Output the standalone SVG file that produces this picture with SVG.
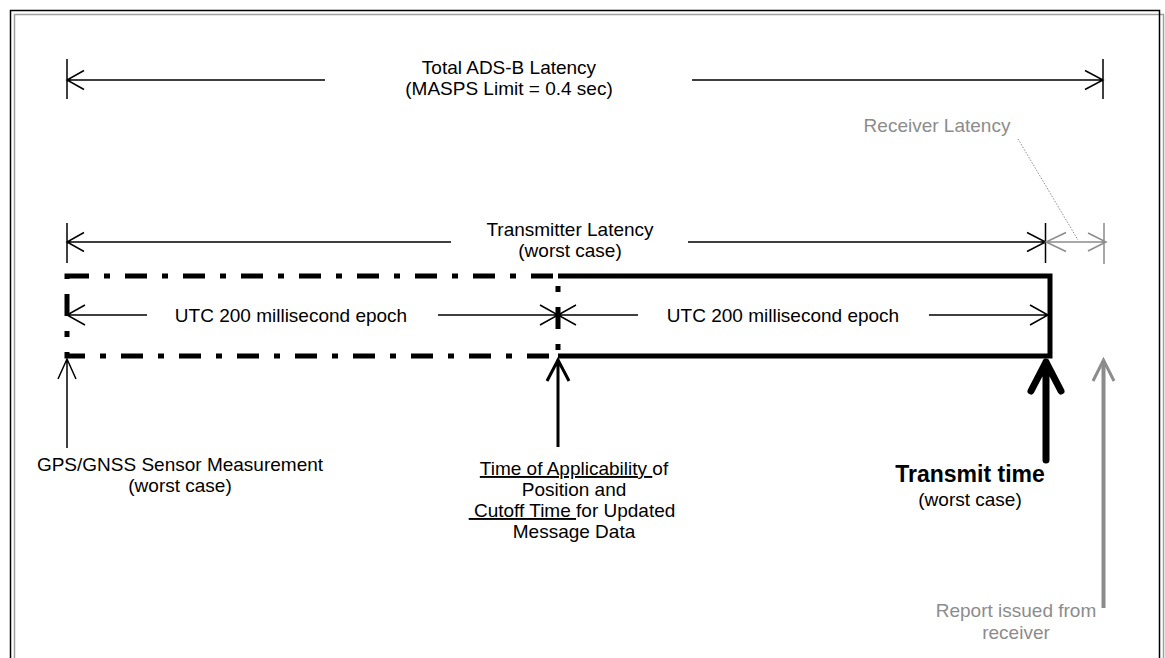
<svg xmlns="http://www.w3.org/2000/svg" width="1165" height="658" viewBox="0 0 1165 658">
<style>
text{font-family:"Liberation Sans",Arial,sans-serif;font-size:19px;fill:#000;text-anchor:middle}
.g{fill:#8c8c8c}
.b{font-weight:bold;font-size:23px}
.dim{stroke:#000;stroke-width:1.5;fill:none}
.gdim{stroke:#8c8c8c;stroke-width:1.5;fill:none}
.u{text-decoration:underline}
</style>
<rect width="1165" height="658" fill="#fff"/>
<g id="frame">
<rect x="14.5" y="14.5" width="1149" height="700" fill="none" stroke="#a0a0a0" stroke-width="1.5"/>
<rect x="10.5" y="10.5" width="1149" height="700" fill="none" stroke="#000" stroke-width="1.5"/>
</g>
<g id="epoch1">
<rect x="67" y="276" width="491" height="80" fill="none" stroke="#000" stroke-width="5" stroke-dasharray="22 15 6 15"/>
<text x="291" y="322">UTC 200 millisecond epoch</text>
</g>
<g id="epoch2">
<path d="M558,276 H1050 V356 H558" fill="none" stroke="#000" stroke-width="5"/>
<text x="783" y="322">UTC 200 millisecond epoch</text>
</g>
<g id="total-label">
<text x="509" y="74">Total ADS-B Latency</text>
<text x="509" y="95">(MASPS Limit = 0.4 sec)</text>
</g>
<g id="transmitter-label">
<text x="570" y="236">Transmitter Latency</text>
<text x="570" y="257">(worst case)</text>
</g>
<g id="receiver-label">
<text class="g" x="937" y="132">Receiver Latency</text>
</g>
<g id="gps">
<text x="180" y="471">GPS/GNSS Sensor Measurement</text>
<text x="180" y="492">(worst case)</text>
</g>
<g id="toa">
<text x="574" y="475" xml:space="preserve"><tspan class="u">Time of Applicability </tspan>of</text>
<text x="574" y="496">Position and</text>
<text x="572" y="517" xml:space="preserve"><tspan class="u"> Cutoff Time </tspan>for Updated</text>
<text x="574" y="538">Message Data</text>
</g>
<g id="transmit">
<text class="b" x="970" y="482">Transmit time</text>
<text x="970" y="506">(worst case)</text>
</g>
<g id="report">
<text class="g" x="1016" y="617">Report issued from</text>
<text class="g" x="1016" y="639">receiver</text>
</g>
<g id="connectors">
<!-- total latency -->
<path class="dim" d="M67,59 V99 M1103,59 V99 M67,80 H325 M692,80 H1103 M84,70.5 L67,80 L84,89.5 M1085,70.5 L1103,80 L1085,89.5"/>
<!-- transmitter latency -->
<path class="dim" d="M67,223 V263 M1045.5,223 V263 M67,242 H451 M688,242 H1045.5 M84,232.5 L67,242 L84,251.5 M1027,232.5 L1045.5,242 L1027,251.5"/>
<!-- receiver latency -->
<path class="gdim" d="M1104,223 V264 M1046,242 H1104 M1066,232.5 L1046,242 L1066,251.5 M1088,233 L1106,242 L1088,251"/>
<path d="M1018,139 L1078,240" stroke="#8c8c8c" stroke-width="1" stroke-dasharray="1.5 1.5" fill="none"/>
<!-- epochs -->
<path class="dim" d="M67,315 H147 M438,315 H558 M85,305 L67,315 L85,325 M540,305 L558,315 L540,325"/>
<path class="dim" d="M558,315 H638 M929,315 H1048 M576,305 L558,315 L576,325 M1030,305 L1048,315 L1030,325"/>
<!-- up arrows -->
<path d="M67,359 V448 M58,379 L67,359 L76,379" stroke="#000" stroke-width="1.5" fill="none"/>
<path d="M558,359 V447 M547,381 L558,360 L569,381" stroke="#000" stroke-width="3" fill="none"/>
<path d="M1046,362 V460 M1031,391 L1046,362 L1061,391" stroke="#000" stroke-width="7" fill="none" stroke-linecap="round" stroke-linejoin="round"/>
<path d="M1103.5,361 V608" stroke="#8c8c8c" stroke-width="4" fill="none"/>
<path d="M1093,381 L1103.5,360 L1114,381" stroke="#8c8c8c" stroke-width="3" fill="none"/>
</g>
</svg>
